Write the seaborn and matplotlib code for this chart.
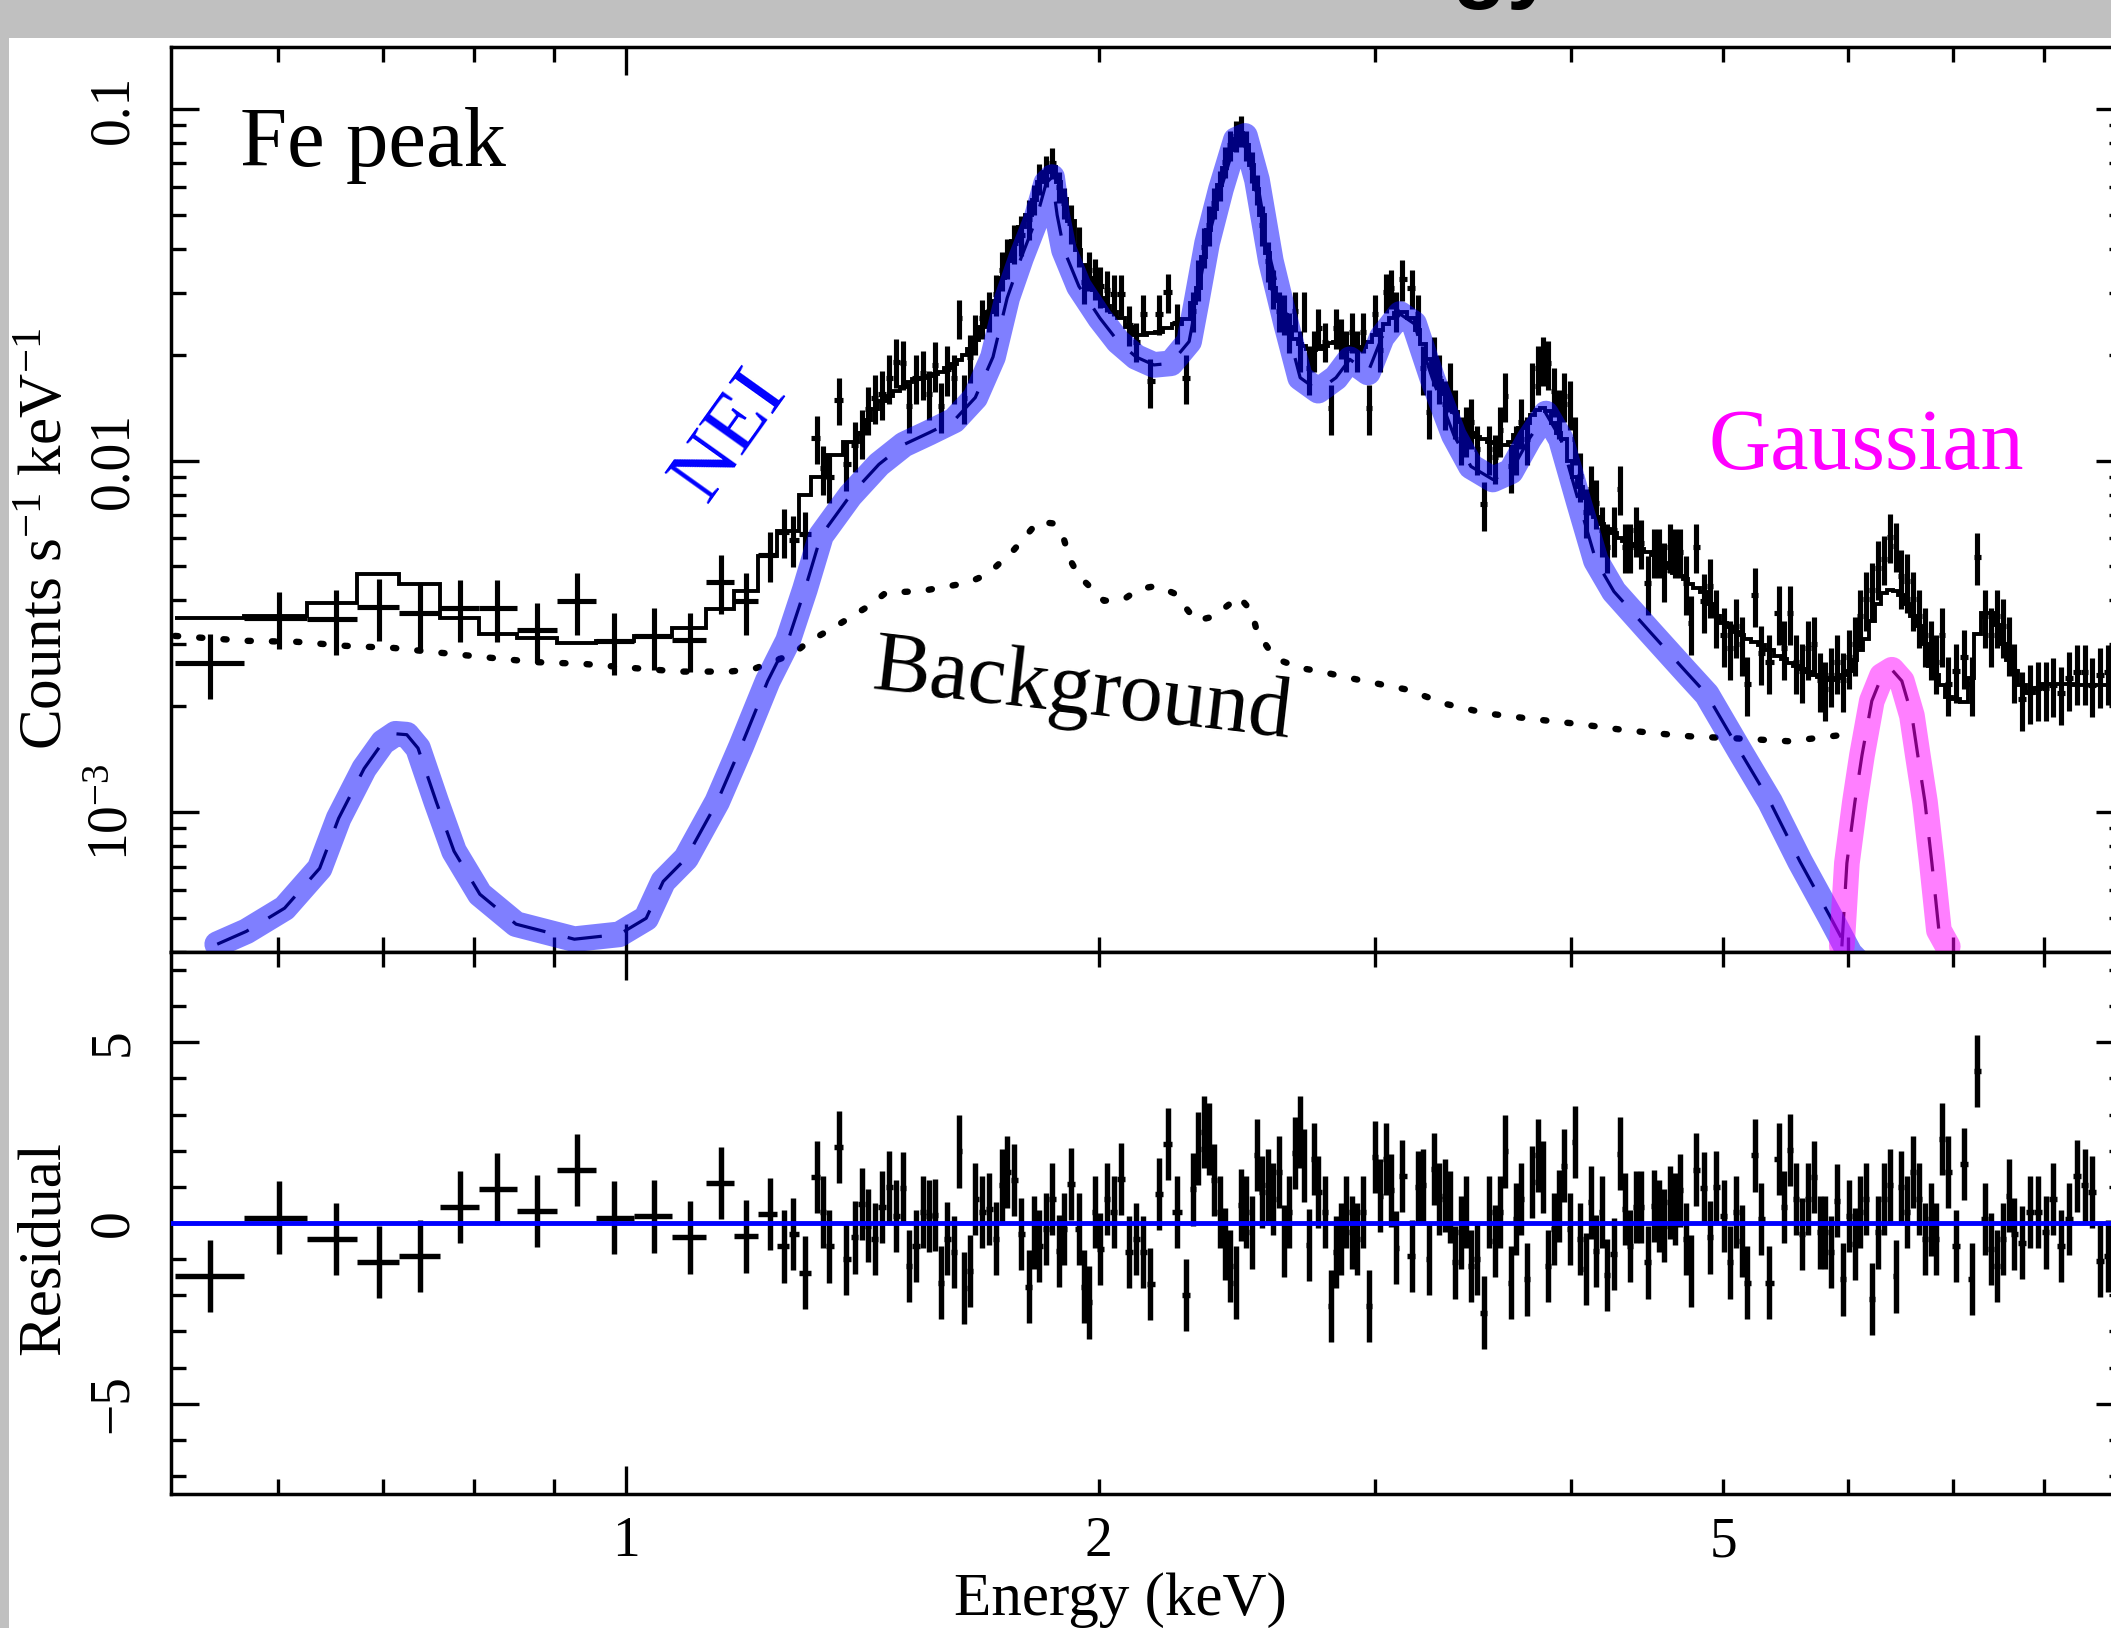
import numpy as np
import matplotlib
matplotlib.use("Agg")
import matplotlib.pyplot as plt
from matplotlib.patches import Rectangle
from matplotlib.ticker import FixedLocator, FixedFormatter, NullFormatter, LogLocator, MultipleLocator
import seaborn as sns

# ---------------- data ----------------
# bin centres (keV)
energy = [0.543, 0.601, 0.653, 0.696, 0.739, 0.784, 0.828, 0.878, 0.931, 0.983,
          1.042, 1.098, 1.150, 1.192, 1.235, 1.261, 1.278, 1.300, 1.323, 1.335,
          1.347, 1.367, 1.381, 1.399, 1.413, 1.426, 1.440, 1.456, 1.471, 1.486,
          1.501, 1.514, 1.530, 1.546, 1.560, 1.573, 1.587, 1.602, 1.618, 1.630,
          1.642, 1.656, 1.669, 1.686, 1.703, 1.721, 1.736, 1.749, 1.767, 1.785,
          1.806, 1.820, 1.833, 1.852, 1.868, 1.887, 1.901, 1.920, 1.943, 1.957,
          1.972, 1.989, 2.004, 2.025, 2.045, 2.067, 2.091, 2.113, 2.135, 2.157,
          2.185, 2.214, 2.244, 2.274, 2.297, 2.314, 2.334, 2.351, 2.368, 2.389,
          2.407, 2.425, 2.446, 2.464, 2.483, 2.504, 2.523, 2.541, 2.564, 2.583,
          2.606, 2.625, 2.645, 2.668, 2.688, 2.703, 2.723, 2.743, 2.760, 2.788,
          2.812, 2.833, 2.854, 2.875, 2.900, 2.922, 2.947, 2.973, 3.000, 3.022,
          3.049, 3.071, 3.094, 3.121, 3.167, 3.195, 3.218, 3.247, 3.271, 3.295,
          3.324, 3.348, 3.373, 3.402, 3.428, 3.453, 3.483, 3.520, 3.546, 3.577,
          3.604, 3.630, 3.662, 3.689, 3.716, 3.749, 3.777, 3.810, 3.838, 3.866,
          3.900, 3.929, 3.958, 3.993, 4.022, 4.052, 4.088, 4.118, 4.148, 4.185,
          4.216, 4.259, 4.297, 4.328, 4.360, 4.399, 4.431, 4.477, 4.516, 4.550,
          4.583, 4.624, 4.658, 4.692, 4.733, 4.768, 4.803, 4.860, 4.902, 4.946,
          5.005, 5.049, 5.093, 5.138, 5.176, 5.237, 5.283, 5.346, 5.425, 5.465,
          5.513, 5.562, 5.610, 5.661, 5.711, 5.761, 5.804, 5.855, 5.906, 5.960,
          6.012, 6.065, 6.109, 6.163, 6.217, 6.273, 6.329, 6.384, 6.440, 6.488,
          6.545, 6.603, 6.662, 6.721, 6.780, 6.830, 6.890, 6.950, 7.032, 7.115,
          7.199, 7.252, 7.338, 7.402, 7.467, 7.534, 7.601, 7.657, 7.747, 7.838,
          7.930, 8.024, 8.106, 8.202, 8.299, 8.397, 8.496, 8.584, 8.686, 8.787,
          8.891]

# observed rate, 1e-3 counts s^-1 keV^-1
rate = [2.66, 3.57, 3.54, 3.84, 3.69, 3.81, 3.81, 3.30, 3.99, 3.07,
        3.17, 3.09, 4.52, 3.99, 5.40, 6.28, 5.96, 6.19, 11.56, 9.49,
        9.00, 14.9, 9.75, 11.1, 12.0, 14.0, 15.1, 15.5, 17.2, 19.1,
        18.9, 14.3, 17.2, 17.7, 15.5, 18.7, 14.3, 18.2, 17.2, 25.4,
        15.1, 19.7, 23.0, 25.4, 26.7, 29.7, 34.8, 37.7, 41.5, 43.8,
        48.6, 55.4, 63.2, 66.6, 70.2, 60.0, 54.0, 47.3, 40.7, 32.1,
        34.8, 33.0, 31.3, 30.5, 29.7, 29.7, 24.3, 21.8, 26.1, 16.8,
        26.1, 30.1, 24.6, 17.2, 26.7, 32.8, 40.5, 46.8, 54.0, 60.7,
        70.6, 78.9, 83.8, 86.5, 78.9, 68.4, 59.1, 46.8, 36.9, 30.9,
        26.7, 26.1, 23.2, 26.7, 20.6, 26.7, 18.3, 20.6, 23.8, 21.8,
        14.1, 23.8, 22.4, 20.6, 23.2, 20.6, 23.2, 14.1, 26.1, 20.6,
        30.1, 30.9, 26.7, 32.8, 30.9, 26.1, 18.3, 13.7, 19.4, 17.2,
        14.5, 16.3, 13.7, 11.5, 12.2, 12.9, 10.8, 7.50, 10.8, 10.2,
        12.2, 15.3, 9.62, 10.8, 12.9, 11.5, 16.3, 18.3, 19.4, 18.9,
        15.8, 13.7, 15.3, 14.5, 11.5, 9.06, 7.16, 8.32, 7.59, 6.35,
        5.69, 6.35, 8.32, 5.69, 5.69, 6.35, 5.83, 4.49, 5.51, 5.51,
        4.89, 5.69, 5.51, 5.51, 4.49, 3.46, 5.69, 3.99, 4.40, 3.60,
        3.19, 2.93, 3.39, 3.01, 2.32, 4.15, 2.84, 2.67, 3.69, 2.93,
        3.69, 2.67, 2.52, 2.93, 3.01, 2.38, 2.24, 2.46, 2.67, 2.38,
        2.77, 3.01, 3.60, 4.05, 4.29, 4.96, 5.26, 6.07, 5.73, 4.68,
        4.55, 4.05, 3.60, 3.19, 2.93, 2.67, 3.19, 2.32, 2.52, 2.77,
        2.32, 5.33, 3.60, 3.19, 3.60, 3.39, 3.01, 2.52, 2.10, 2.20,
        2.25, 2.25, 2.30, 2.18, 2.40, 2.50, 2.50, 2.30, 2.45, 2.50,
        2.40]

rate_err = [0.56, 0.66, 0.74, 0.77, 0.78, 0.76, 0.76, 0.63, 0.80, 0.61,
            0.63, 0.59, 0.86, 0.80, 0.88, 1.00, 0.98, 0.95, 1.80, 1.50,
            1.45, 2.3, 1.55, 1.8, 1.9, 2.2, 2.4, 2.5, 2.7, 3.0,
            3.0, 2.3, 2.7, 2.8, 2.5, 3.0, 2.3, 2.9, 2.7, 3.3,
            2.4, 3.1, 3.0, 3.3, 3.5, 3.9, 4.5, 4.9, 5.4, 5.7,
            6.3, 5.5, 6.3, 6.7, 7.0, 6.0, 5.4, 6.1, 5.3, 4.2,
            4.5, 4.3, 4.1, 4.0, 3.9, 3.9, 3.2, 2.8, 3.4, 2.7,
            3.4, 3.9, 3.2, 2.7, 3.5, 4.3, 5.3, 6.1, 5.4, 6.1,
            7.1, 7.9, 8.4, 8.7, 7.9, 6.8, 5.9, 6.1, 4.8, 4.0,
            3.5, 3.4, 3.0, 3.5, 2.7, 3.5, 2.9, 2.7, 3.1, 2.8,
            2.3, 3.1, 2.9, 2.7, 3.0, 2.7, 3.0, 2.3, 3.4, 2.7,
            3.9, 4.0, 3.5, 4.3, 4.0, 3.4, 2.9, 2.2, 3.1, 2.7,
            2.3, 2.6, 2.2, 1.8, 2.0, 2.1, 1.7, 1.20, 1.7, 1.6,
            2.0, 2.4, 1.54, 1.7, 2.1, 1.8, 2.6, 2.9, 3.1, 3.0,
            2.5, 2.2, 2.4, 2.3, 1.8, 1.45, 1.15, 1.33, 1.21, 1.02,
            0.91, 1.02, 1.33, 0.91, 0.91, 1.02, 0.93, 0.85, 0.88, 0.88,
            0.93, 0.91, 0.88, 0.88, 0.85, 0.66, 0.91, 0.76, 0.84, 0.68,
            0.61, 0.56, 0.64, 0.57, 0.44, 0.79, 0.54, 0.51, 0.70, 0.56,
            0.70, 0.51, 0.48, 0.56, 0.57, 0.45, 0.43, 0.47, 0.51, 0.45,
            0.53, 0.57, 0.68, 0.77, 0.82, 0.94, 0.84, 0.97, 0.92, 0.89,
            0.86, 0.77, 0.68, 0.61, 0.56, 0.51, 0.61, 0.44, 0.48, 0.53,
            0.44, 0.90, 0.68, 0.61, 0.68, 0.64, 0.57, 0.48, 0.40, 0.42,
            0.43, 0.43, 0.44, 0.41, 0.46, 0.48, 0.48, 0.44, 0.47, 0.48,
            0.46]

# total folded model per bin (stepped line), 1e-3 counts s^-1 keV^-1
model_rate = [3.57, 3.62, 3.92, 4.76, 4.46, 3.57, 3.21, 3.13, 3.03, 3.07,
              3.17, 3.34, 3.79, 4.26, 5.36, 6.30, 6.30, 8.00, 9.00, 9.00,
              10.4, 10.4, 11.3, 11.3, 12.0, 13.0, 14.0, 14.8, 15.3, 15.8,
              16.2, 16.7, 17.0, 17.2, 17.4, 17.6, 17.8, 18.3, 18.8, 19.3,
              20.0, 20.8, 22.0, 24.0, 26.5, 28.5, 33.0, 37.0, 42.0, 46.0,
              49.9, 55.0, 62.0, 66.0, 68.4, 62.0, 55.4, 48.0, 39.7, 36.0,
              33.0, 30.5, 29.0, 27.5, 26.5, 25.5, 24.0, 22.7, 22.8, 23.0,
              23.2, 23.8, 24.5, 25.2, 28.0, 31.0, 38.0, 45.2, 52.0, 60.7,
              68.0, 76.4, 82.0, 85.4, 79.0, 69.3, 59.0, 49.9, 39.0, 30.9,
              28.5, 26.0, 24.0, 22.2, 21.5, 21.2, 20.8, 20.6, 20.8, 21.2,
              21.6, 21.8, 21.5, 21.0, 20.7, 20.6, 21.0, 21.8, 22.8, 23.5,
              24.5, 25.5, 26.3, 26.5, 25.5, 23.5, 21.5, 19.5, 17.8, 16.8,
              15.5, 14.5, 13.7, 12.9, 12.4, 12.0, 11.7, 11.5, 11.3, 11.2,
              11.1, 11.1, 11.3, 11.8, 12.4, 12.8, 13.5, 13.9, 14.1, 13.8,
              12.8, 12.0, 11.5, 10.0, 9.0, 8.4, 7.8, 7.2, 6.9, 6.6,
              6.4, 6.2, 6.0, 5.9, 5.8, 5.7, 5.6, 5.5, 5.4, 5.25,
              5.1, 4.95, 4.8, 4.7, 4.6, 4.45, 4.35, 4.24, 3.9, 3.6,
              3.45, 3.35, 3.25, 3.18, 3.11, 3.05, 2.98, 2.90, 2.78, 2.72,
              2.65, 2.60, 2.55, 2.50, 2.45, 2.42, 2.40, 2.38, 2.40, 2.45,
              2.52, 2.70, 2.90, 3.10, 3.50, 3.90, 4.20, 4.29, 4.25, 4.15,
              3.90, 3.60, 3.39, 3.00, 2.60, 2.45, 2.30, 2.13, 2.10, 2.06,
              2.40, 3.20, 3.69, 3.69, 3.40, 3.00, 2.70, 2.52, 2.30, 2.18,
              2.25, 2.32, 2.32, 2.32, 2.32, 2.30, 2.30, 2.30, 2.30, 2.30,
              2.30]

# residuals (sigma)
residual = [-1.46, 0.15, -0.44, -1.07, -0.92, 0.44, 0.95, 0.34, 1.46, 0.15,
            0.18, -0.40, 1.11, -0.37, 0.25, -0.65, -0.30, -1.37, 1.27, 0.30,
            -0.65, 2.10, -1.00, -0.40, 0.53, -0.07, -0.44, 0.44, 0.99, 0.20,
            0.96, -1.19, -0.63, 0.30, 0.20, 0.22, -1.65, -0.43, -0.81, 1.98,
            -1.79, -1.32, 0.67, 0.30, 0.39, -0.43, 1.04, 1.41, 1.18, -0.31,
            -1.76, -0.26, -0.63, -0.17, 0.67, -0.77, -0.17, 1.08, -0.17, -1.76,
            -2.20, 0.30, -0.72, 0.67, 0.30, 1.22, -0.81, -0.44, -0.81, -1.69,
            0.81, 2.18, 0.30, -2.00, 0.93, 2.06, 2.52, 2.33, 1.18, 0.30,
            -0.58, -1.19, -1.65, 0.50, 0.30, -0.26, 1.89, 0.85, 1.04, 0.67,
            1.41, -0.50, 0.30, 1.94, 2.52, 1.59, -0.60, 1.78, 0.85, 0.30,
            -2.30, -0.81, -0.44, 0.30, -0.26, -0.44, 0.30, -2.30, 1.82, 0.76,
            1.78, 0.90, -0.68, 1.31, -0.91, 0.99, 1.04, -1.00, 1.50, 0.67,
            0.76, 0.44, -1.09, -0.26, 0.30, -1.19, -1.00, -2.48, 0.30, -0.50,
            0.30, 1.98, -1.65, 0.11, 0.67, -1.56, 1.13, 1.87, 1.27, -1.19,
            -0.17, 0.48, 1.59, -0.17, 2.24, -0.44, -1.28, 0.57, -0.77, 0.30,
            -1.44, -0.86, 1.92, 0.39, -0.63, 0.44, 0.44, -1.09, 0.48, 0.20,
            -0.07, 0.57, 0.39, 0.90, -0.44, -1.32, 1.48, 0.96, -0.40, 0.99,
            0.20, -1.09, 0.30, -0.50, -1.65, 1.87, 0.11, -1.65, 1.78, 0.44,
            2.03, 0.67, -0.30, 0.67, 1.27, -0.26, -0.26, -0.80, 0.62, -1.56,
            0.20, -0.58, 0.30, 0.67, -2.11, -0.26, 0.67, 1.04, -1.48, 0.99,
            0.30, 1.41, 0.67, -0.44, 0.10, -0.44, 2.33, 1.41, -0.63, 1.64,
            -1.54, 4.20, 0.11, -0.72, -1.19, -0.44, 0.76, -0.30, -0.54, 0.30,
            0.30, -0.26, 0.67, -0.63, 0.11, 1.31, 1.04, 0.85, -1.05, -0.91,
            0.40]

# NEI component
nei_energy = [0.549, 0.573, 0.606, 0.638, 0.656, 0.681, 0.700, 0.713, 0.725, 0.737,
              0.757, 0.777, 0.807, 0.851, 0.927, 0.990, 1.030, 1.056, 1.092, 1.143,
              1.184, 1.231, 1.268, 1.300, 1.331, 1.389, 1.449, 1.503, 1.560, 1.618,
              1.669, 1.713, 1.749, 1.785, 1.825, 1.852, 1.868, 1.882, 1.901, 1.943,
              2.004, 2.058, 2.113, 2.169, 2.224, 2.284, 2.307, 2.345, 2.393, 2.446,
              2.479, 2.523, 2.575, 2.633, 2.688, 2.760, 2.833, 2.891, 2.969, 3.030,
              3.112, 3.177, 3.262, 3.368, 3.453, 3.566, 3.662, 3.760, 3.855, 3.940,
              4.046, 4.148, 4.259, 4.489, 4.733, 4.881, 5.124, 5.355, 5.595, 5.846,
              6.020, 6.110]
nei_rate = [0.421, 0.458, 0.533, 0.692, 0.96, 1.33, 1.58, 1.67, 1.66, 1.52,
            1.07, 0.774, 0.584, 0.480, 0.435, 0.449, 0.499, 0.635, 0.739, 1.07,
            1.54, 2.36, 3.07, 4.30, 6.11, 7.94, 9.75, 11.1, 12.0, 13.0,
            15.1, 19.7, 29.0, 37.7, 48.6, 61.5, 64.0, 49.9, 39.7, 31.3,
            25.4, 21.8, 19.7, 18.7, 18.9, 21.8, 27.7, 41.5, 59.1, 81.6,
            83.8, 62.8, 36.9, 24.5, 17.2, 15.8, 17.2, 19.4, 17.8, 22.4,
            26.1, 24.5, 17.2, 11.8, 9.62, 8.83, 9.31, 11.5, 13.6, 11.5,
            7.59, 5.19, 4.24, 3.26, 2.51, 2.16, 1.49, 1.07, 0.724, 0.506,
            0.396, 0.37]

# Gaussian (Fe line) component
gauss_energy = [5.950, 5.994, 6.065, 6.128, 6.217, 6.310, 6.403,
                6.497, 6.594, 6.651, 6.721, 6.790, 6.860, 6.950]
gauss_rate = [0.415, 0.716, 1.07, 1.45, 2.07, 2.44, 2.54,
              2.36, 1.88, 1.45, 1.07, 0.716, 0.461, 0.415]

# background model
bkg_energy = [0.516, 0.573, 0.617, 0.663, 0.711, 0.761, 0.818, 0.876, 0.939, 1.009,
              1.081, 1.165, 1.208, 1.278, 1.304, 1.365, 1.432, 1.464, 1.541, 1.651,
              1.701, 1.767, 1.830, 1.873, 1.901, 1.918, 1.943, 2.016, 2.079, 2.122,
              2.179, 2.237, 2.307, 2.368, 2.457, 2.504, 2.523, 2.564, 2.617, 2.688,
              2.771, 2.862, 2.952, 3.145, 3.329, 3.530, 3.777, 4.046, 4.328, 4.631,
              4.783, 5.101, 5.513, 5.968]
bkg_rate = [3.17, 3.07, 3.05, 2.97, 2.93, 2.84, 2.75, 2.67, 2.64, 2.57,
            2.51, 2.51, 2.56, 2.82, 3.03, 3.41, 3.89, 4.21, 4.25, 4.49,
            4.76, 5.58, 6.70, 6.62, 5.96, 5.22, 4.70, 3.99, 4.05, 4.31,
            4.40, 4.18, 3.50, 3.60, 4.10, 3.72, 3.26, 2.93, 2.69, 2.57,
            2.51, 2.43, 2.36, 2.23, 2.03, 1.91, 1.84, 1.78, 1.71, 1.66,
            1.64, 1.62, 1.59, 1.66]

# ---------------- derived arrays ----------------
milli = 1e-3
e = np.array(energy)
mid = np.sqrt(e[:-1] * e[1:])
edges = np.concatenate([[e[0] ** 2 / mid[0]], mid, [e[-1] ** 2 / mid[-1]]])
xerr = np.vstack([e - edges[:-1], edges[1:] - e])
y = np.array(rate) * milli
yerr = np.array(rate_err) * milli
ymod = np.array(model_rate) * milli

# ---------------- style ----------------
sns.set_style("ticks")
plt.rcParams["font.family"] = ["Liberation Serif", "DejaVu Serif"]
plt.rcParams["mathtext.fontset"] = "custom"
plt.rcParams["mathtext.rm"] = "Liberation Serif"
plt.rcParams["mathtext.it"] = "Liberation Serif:italic"
plt.rcParams["axes.unicode_minus"] = True
for key in ("text.color", "axes.labelcolor", "xtick.color", "ytick.color",
            "xtick.labelcolor", "ytick.labelcolor", "axes.edgecolor"):
    plt.rcParams[key] = "black"

W, H = 2111, 1628
fig = plt.figure(figsize=(W / 100, H / 100), dpi=100)
fig.patch.set_facecolor("#c0c0c0")
fig.add_artist(Rectangle((9 / W, 0), 1.0, 1 - 38 / H, transform=fig.transFigure,
                         facecolor="white", edgecolor="none", zorder=0))
# slide title sitting mostly above the crop
fig.text(1556 / W, 1 + 9 / H, "Energy", ha="right", va="baseline", fontsize=64,
         fontweight="bold", family="Liberation Sans", color="black")

left = 171 / W
width = (2124 - 171) / W
ax = fig.add_axes([left, 1 - 952 / H, width, (952 - 47) / H])
axr = fig.add_axes([left, 1 - 1494 / H, width, (1494 - 952) / H])

TICK = 40
for a in (ax, axr):
    a.set_facecolor("white")
    a.set_xscale("log")
    a.set_xlim(0.513, 9.0)
    a.xaxis.set_major_locator(FixedLocator([1.0]))
    a.xaxis.set_minor_locator(FixedLocator([0.6, 0.7, 0.8, 0.9, 2, 3, 4, 5, 6, 7, 8, 9]))
    a.xaxis.set_major_formatter(FixedFormatter(["1"]))
    a.xaxis.set_minor_formatter(FixedFormatter(["", "", "", "", "2", "", "", "5", "", "", "", ""]))
    a.tick_params(which="both", direction="in", top=True, right=True, width=2.4,
                  labelsize=TICK, colors="black")
    a.tick_params(which="major", length=20)
    a.tick_params(which="minor", length=11)
    a.tick_params(axis="x", which="both", pad=16)
    a.tick_params(axis="y", which="both", pad=23, labelrotation=90)
    for s in a.spines.values():
        s.set_linewidth(2.5)
        s.set_color("black")

ax.tick_params(axis="x", which="both", labelbottom=False)

# top panel
ax.set_yscale("log")
ax.set_ylim(4.0e-4, 0.15)
ax.yaxis.set_major_locator(FixedLocator([1e-3, 1e-2, 1e-1]))
ax.yaxis.set_major_formatter(FixedFormatter([r"$10^{-3}$", "0.01", "0.1"]))
ax.yaxis.set_minor_locator(LogLocator(base=10, subs=np.arange(2, 10)))
ax.yaxis.set_minor_formatter(NullFormatter())
for lab in ax.get_yticklabels():
    lab.set_va("center")

sns.lineplot(x=bkg_energy, y=np.array(bkg_rate) * milli, ax=ax, estimator=None, sort=False,
             color="black", lw=4.6, linestyle=(0, (0.5, 3.3)), dash_capstyle="round", zorder=2)
ax.stairs(ymod, edges, baseline=None, color="black", lw=2.8, zorder=3)
ax.errorbar(e, y, xerr=xerr, yerr=yerr, fmt="none", ecolor="black", elinewidth=3.7,
            capsize=0, zorder=4)

nei_y = np.array(nei_rate) * milli
gau_y = np.array(gauss_rate) * milli
sns.lineplot(x=nei_energy, y=nei_y, ax=ax, estimator=None, sort=False, color="black",
             lw=2.3, linestyle=(0, (10.8, 7.2)), zorder=5, clip_on=False)
sns.lineplot(x=gauss_energy, y=gau_y, ax=ax, estimator=None, sort=False, color="black",
             lw=2.3, linestyle=(0, (10.8, 7.2)), zorder=5, clip_on=False)
sns.lineplot(x=nei_energy, y=nei_y, ax=ax, estimator=None, sort=False, color="#0000ff",
             alpha=0.5, lw=18.5, solid_capstyle="round", solid_joinstyle="round",
             zorder=6, clip_on=False)
sns.lineplot(x=gauss_energy, y=gau_y, ax=ax, estimator=None, sort=False, color="#ff00ff",
             alpha=0.5, lw=18.5, solid_capstyle="round", solid_joinstyle="round",
             zorder=6, clip_on=False)

ax.text(0.0353, 0.8685, "Fe peak", transform=ax.transAxes, fontsize=61,
        ha="left", va="baseline", zorder=7)
ax.text(0.2867, 0.5702, "NEI", transform=ax.transAxes, fontsize=60, color="#0000ff",
        rotation=54.5, ha="center", va="center", zorder=7)
ax.text(0.787, 0.5337, "Gaussian", transform=ax.transAxes, fontsize=62, color="#ff00ff",
        ha="left", va="baseline", zorder=7)
ax.text(0.3584, 0.2906, "Background", transform=ax.transAxes, fontsize=62,
        rotation=-6.6, rotation_mode="anchor", ha="left", va="baseline", zorder=7)

ax.set_ylabel(r"Counts s$^{-1}$ keV$^{-1}$", fontsize=44, va="center")
ax.yaxis.set_label_coords(-0.0635, 0.457)

# residual panel
axr.set_ylim(-7.5, 7.5)
axr.yaxis.set_major_locator(FixedLocator([-5, 0, 5]))
axr.yaxis.set_minor_locator(MultipleLocator(1))
for lab in axr.get_yticklabels():
    lab.set_va("center")
axr.errorbar(e, residual, xerr=xerr, yerr=1.0, fmt="none", ecolor="black",
             elinewidth=3.9, capsize=0, zorder=3)
axr.axhline(0, color="#0000ff", lw=3.5, zorder=5)

axr.set_ylabel("Residual", fontsize=44, va="center")
axr.yaxis.set_label_coords(-0.065, 0.454)
axr.set_xlabel("Energy (keV)", fontsize=44, va="baseline")
axr.xaxis.set_label_coords(0.486, -0.2232)

fig.savefig("out.png", dpi=100, facecolor=fig.get_facecolor())
